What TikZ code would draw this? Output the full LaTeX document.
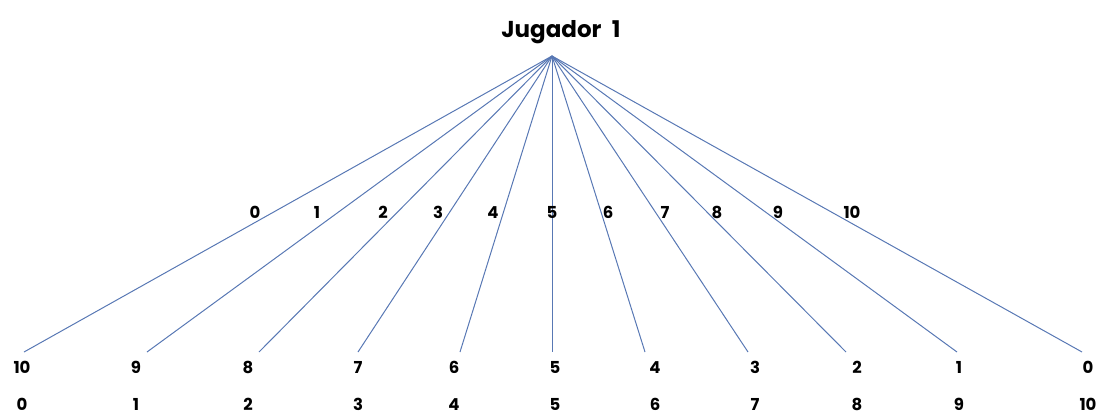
\documentclass[tikz,border=0pt]{standalone}
\usepackage{fontspec}
\setmainfont{Poppins}
\definecolor{edgeblue}{RGB}{88,120,180}
\begin{document}
\begin{tikzpicture}[x=1pt,y=-1pt,
  branch/.style={draw=edgeblue,line width=1pt},
  num/.style={font=\fontsize{16.5}{16.5}\selectfont\bfseries,inner sep=0pt,anchor=base},
  titlestyle/.style={font=\fontsize{23}{23}\selectfont\bfseries,inner sep=0pt,anchor=base}]
\useasboundingbox (0,0) rectangle (1107,415);
\node[titlestyle] (title) at (561,37) {Jugador\hspace{0.45em}1};
\coordinate (root) at (552,56);
% leaf endpoints
\foreach \i/\x in {0/24,1/147,2/259,3/358,4/460,5/552,6/645,7/748,8/846,9/957,10/1082}{
  \coordinate (leaf\i) at (\x,352);
  \draw[branch] (root) -- (leaf\i);
}
% branch labels
\foreach \i/\x in {0/255,1/317,2/383,3/438,4/493,5/552,6/608,7/665,8/717,9/778,10/852}{
  \node[num] (b\i) at (\x,218) {\i};
}
% payoff rows
\foreach \i/\x in {0/22,1/136,2/248,3/358,4/454,5/555,6/655,7/755,8/857,9/959,10/1088}{
  \pgfmathtruncatemacro{\j}{10-\i}
  \node[num] (p\i) at (\x,373) {\j};
  \node[num] (q\i) at (\x,410) {\i};
}
\end{tikzpicture}
\end{document}
